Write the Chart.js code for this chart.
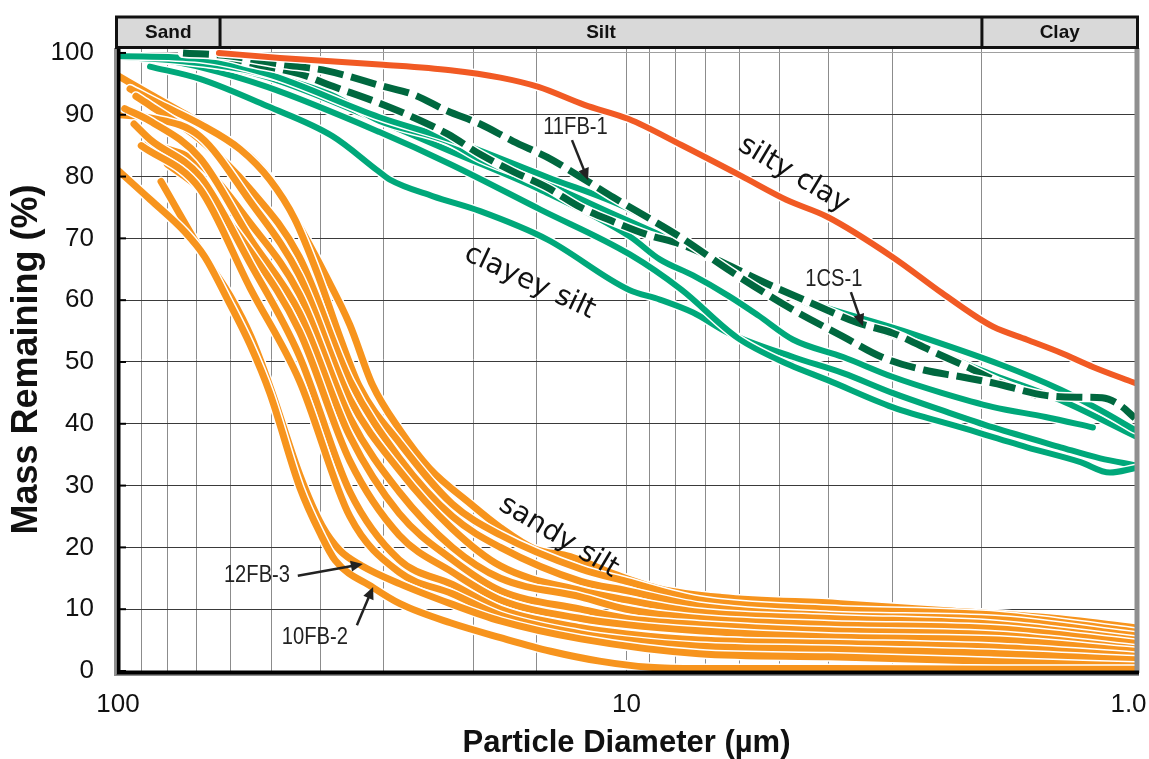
<!DOCTYPE html>
<html>
<head>
<meta charset="utf-8">
<script src="https://cdn.jsdelivr.net/npm/chart.js@4/dist/chart.umd.min.js"></script>
<style>
  html, body { margin: 0; padding: 0; background: #fff; }
</style>
</head>
<body>
<canvas id="psd" width="1149" height="759"></canvas>
<script>
// Grain-size curves: particle diameter (µm) against mass remaining (%)

// silty clay
const siltyClayDia = [63.3, 48, 30.1, 22.2, 17.7, 14.9, 12.1, 9.9, 7.8, 5.95, 4.84, 4.03, 3.0, 2.4, 2.05, 1.9, 1.63, 1.4, 1.21, 1.0];
const siltyClayPct = [100, 99.2, 98.1, 97.2, 96.0, 94.5, 91.6, 89.3, 85.1, 80.1, 76.2, 73.5, 67.0, 61.2, 57.3, 55.7, 53.6, 51.5, 49.2, 46.6];

// clayey silt, labelled samples (dashed)
const fb11Dia = [74.5, 60.2, 48.0, 38.8, 30.1, 26.3, 22.5, 19.4, 16.7, 14.3, 12.3, 10.6, 9.1, 7.8, 6.3, 4.7, 3.75, 3.15, 2.6, 2.2, 1.9, 1.5, 1.27, 1.16, 1.07, 1.0];
const fb11Pct = [100, 99.5, 98.2, 97.1, 94.6, 93.3, 90.6, 88.5, 85.7, 83.1, 79.9, 76.6, 73.4, 70.1, 64.9, 58.4, 54.1, 50.8, 48.7, 47.6, 46.6, 44.6, 44.3, 44.2, 43.0, 40.9];
const cs1Dia = [74.5, 64.5, 53.8, 43.9, 37.8, 30.9, 26.3, 22.5, 19.4, 16.7, 14.3, 12.3, 10.6, 9.1, 7.8, 6.5, 5.5, 4.35, 3.5, 3.0, 2.53, 2.14, 1.83, 1.56];
const cs1Pct = [100, 99.7, 98.2, 96.6, 94.6, 92.0, 89.6, 86.9, 83.6, 80.8, 78.2, 75.0, 72.7, 70.6, 69.0, 66.2, 63.3, 59.6, 56.3, 54.7, 51.9, 49.2, 46.6, 44.6];

// clayey silt
const clayey1Dia = [100, 69.0, 50.9, 30.6, 22.2, 14.3, 9.85, 7.2, 4.6, 2.9, 1.83, 1.4, 1.17, 1.0];
const clayey1Pct = [99.5, 99.0, 96.6, 89.6, 86.0, 79.9, 74.7, 68.2, 60.4, 55.2, 49.5, 45.5, 42.2, 39.0];
const clayey2Dia = [94.7, 69.0, 50.9, 30.6, 22.2, 14.8, 9.85, 8.6, 7.4, 6.3, 5.5, 4.7, 3.75, 3.0, 2.4, 1.9, 1.5, 1.21];
const clayey2Pct = [99.5, 98.5, 96.1, 89.0, 84.1, 77.9, 70.3, 66.6, 64.0, 60.7, 57.5, 53.6, 50.8, 47.6, 45.0, 42.7, 41.1, 39.4];
const clayey3Dia = [86.5, 69.0, 50.9, 37.8, 30.9, 29.2, 24.0, 19.4, 14.3, 9.9, 8.6, 7.4, 6.3, 4.7, 3.75, 3.0, 2.4, 1.9, 1.4, 1.17, 1.0];
const clayey3Pct = [97.8, 95.8, 91.4, 86.5, 81.0, 79.5, 76.8, 74.4, 69.8, 61.7, 60.1, 58.0, 54.7, 50.8, 48.2, 45.0, 42.2, 39.4, 36.2, 34.4, 33.3];
const clayey4Dia = [82.7, 69.0, 50.9, 30.6, 22.2, 14.8, 9.85, 7.8, 6.05, 4.77, 4.03, 3.0, 2.2, 1.63, 1.28, 1.12, 1.0];
const clayey4Pct = [99.0, 97.7, 94.5, 87.2, 82.0, 74.7, 67.4, 61.7, 53.9, 49.5, 47.1, 42.7, 39.4, 36.2, 33.8, 32.1, 32.8];
const clayey5Dia = [100, 75.5, 55.0, 38.3, 30.6, 22.5, 19.4, 14.3, 10.6, 7.8, 5.5, 3.75, 3.0, 1.9, 1.4, 1.0];
const clayey5Pct = [99.4, 98.7, 97.1, 93.3, 89.0, 85.7, 82.8, 78.7, 73.9, 69.0, 63.0, 57.1, 54.4, 47.9, 43.8, 38.0];

// sandy silt
const sandy1Dia = [100, 86.5, 73.8, 63.6, 54.7, 48.4, 43.6, 39.1, 35.0, 31.6, 27.9, 24.4, 20.3, 17.7, 15.2, 12.9, 10.5, 8.6, 6.5, 3.8, 2.3, 1.48, 1.0];
const sandy1Pct = [96.3, 93.3, 90.1, 86.9, 83.1, 77.9, 71.4, 64.1, 56, 46.3, 39, 32.8, 27.1, 23.2, 19.8, 18.5, 15.6, 13.3, 11.9, 10.9, 9.7, 8.6, 7.0];
const sandy2Dia = [94.7, 82.7, 69.0, 57.5, 50.3, 44.9, 40.4, 36.6, 33.5, 28, 22, 17.7, 12.3, 10, 7.2, 4.0, 1.85, 1.0];
const sandy2Pct = [94.2, 91.7, 88.5, 84.4, 79.5, 73.1, 64, 54, 46, 37, 27, 22, 16.5, 14.5, 11.5, 10, 9.0, 6.3];
const sandy3Dia = [92.2, 86.5, 69, 55, 44, 35, 28, 22, 17.7, 12.3, 10, 7.2, 4.0, 1.85, 1.0];
const sandy3Pct = [93, 91.5, 86, 78, 67, 47, 34.5, 25, 20, 14.5, 13, 10.5, 9, 8.3, 5.7];
const sandy4Dia = [100, 86.5, 69, 55, 44, 35, 28, 22, 17.7, 12.3, 10, 7.2, 4.0, 1.85, 1.0];
const sandy4Pct = [90, 89.5, 86.5, 76, 64, 44, 32.5, 23, 17, 13, 11.5, 9.5, 8.5, 7.5, 5.0];
const sandy5Dia = [87.3, 69, 55, 44, 35, 28, 22, 17.7, 12.3, 10, 7.2, 4.0, 1.85, 1.0];
const sandy5Pct = [85.5, 82, 72.5, 61, 41, 29, 20, 15, 12, 10, 8.5, 7.5, 6.8, 4.5];
const sandy6Dia = [97, 86.5, 69, 55, 44, 35, 28, 22, 17.7, 12.3, 10, 7.2, 4.0, 1.85, 1.0];
const sandy6Pct = [91, 89, 83, 70, 58, 38, 25.5, 18, 13, 10, 8.5, 7.5, 6.5, 5.8, 3.6];
const sandy7Dia = [80, 69, 55, 44, 35, 28, 22, 17.7, 12.3, 10, 7.2, 4.0, 1.85, 1.0];
const sandy7Pct = [82, 78, 68, 55, 34, 22, 16, 11.5, 8.5, 7.5, 6.5, 5.5, 5.0, 3.2];
const sandy8Dia = [93, 86.5, 69, 55, 44, 35, 28, 22, 17.7, 12.3, 10, 7.2, 4.0, 1.85, 1.0];
const sandy8Pct = [88.5, 86, 80, 66, 51, 29, 18, 14, 10, 7, 6, 5, 4.5, 3.8, 2.4];
const sandy9Dia = [90, 69, 55, 44, 35, 28, 22, 17.7, 12.3, 10, 7.2, 4.0, 1.85, 1.0];
const sandy9Pct = [85, 78, 62, 47, 25, 16, 12.5, 9, 6, 5, 4, 3.5, 2.8, 1.8];
const fb12Dia = [82.3, 67.5, 60, 54.7, 50, 43.9, 39.7, 36.6, 33.1, 27.9, 22.2, 17.7, 12.3, 7.2, 4.0, 1.85, 1.0];
const fb12Pct = [79.2, 67, 60.5, 54, 45.5, 31.7, 23.5, 19.5, 17, 14.1, 10.9, 8.1, 5.2, 2.8, 2.3, 1.5, 0.8];
const fb10Dia = [100, 86.5, 73.8, 67.5, 60.8, 55, 50.3, 43.9, 40, 37.4, 31.5, 27.9, 22.2, 17.7, 14.1, 11.3, 9.0, 7.2, 4.0, 1.85, 1.0];
const fb10Pct = [81, 76.3, 71, 67, 60, 52.8, 45, 29.7, 22.2, 17.9, 13.5, 10.9, 7.8, 5.4, 3.2, 1.6, 0.6, 0.4, 0.4, 0.3, 0.3];

// size classes across the top (µm)
const classNames = ['Sand', 'Silt', 'Clay'];
const classBreaks = [100, 63, 2, 1];

// axis ticks
const yTickValues = [0, 10, 20, 30, 40, 50, 60, 70, 80, 90, 100];
const xTickLabels = { 100: '100', 10: '10', 1: '1.0\u2002' };

// text placed on the plot, in data units
const groupNotes = [
  { text: 'silty clay', d: 4.69, p: 80.3, angle: 31 },
  { text: 'clayey silt', d: 15.5, p: 62.9, angle: 25 },
  { text: 'sandy silt', d: 13.6, p: 21.7, angle: 31 }
];
const sampleTags = [
  { text: '11FB-1', d: 12.6, p: 87.9, from: [12.8, 85.9], to: [11.9, 79.4] },
  { text: '1CS-1', d: 3.91, p: 63.3, from: [3.62, 61.3], to: [3.43, 55.8] },
  { text: '12FB-3', d: 53.3, p: 15.5, from: [44.3, 15.4], to: [33.0, 17.3] },
  { text: '10FB-2', d: 41.0, p: 5.5, from: [33.9, 7.4], to: [31.5, 13.6] }
];

const ORANGE = '#F7941D';
const GREEN = '#00A87A';
const DARK = '#00683F';
const RED = '#F15A24';

const datasets = [];
function addCurve(dia, pct, color, width, dash) {
  const data = dia.map((d, i) => ({ x: d, y: pct[i] }));
  const base = {
    data,
    pointRadius: 0,
    fill: false,
    cubicInterpolationMode: 'monotone',
    borderJoinStyle: 'round'
  };
  // white casing so crossing curves stay apart
  datasets.push(Object.assign({}, base, { borderColor: '#ffffff', borderWidth: width + 3, borderCapStyle: 'round' }));
  datasets.push(Object.assign({}, base, {
    borderColor: color,
    borderWidth: width,
    borderDash: dash || [],
    borderCapStyle: dash ? 'butt' : 'round'
  }));
}

[
  [sandy1Dia, sandy1Pct], [sandy2Dia, sandy2Pct], [sandy3Dia, sandy3Pct],
  [sandy4Dia, sandy4Pct], [sandy5Dia, sandy5Pct], [sandy6Dia, sandy6Pct],
  [sandy7Dia, sandy7Pct], [sandy8Dia, sandy8Pct], [sandy9Dia, sandy9Pct],
  [fb12Dia, fb12Pct], [fb10Dia, fb10Pct]
].forEach(c => addCurve(c[0], c[1], ORANGE, 7));

[
  [clayey3Dia, clayey3Pct], [clayey4Dia, clayey4Pct], [clayey2Dia, clayey2Pct],
  [clayey5Dia, clayey5Pct], [clayey1Dia, clayey1Pct]
].forEach(c => addCurve(c[0], c[1], GREEN, 6));

addCurve(cs1Dia, cs1Pct, DARK, 7, [26, 8]);
addCurve(fb11Dia, fb11Pct, DARK, 7, [26, 8]);
addCurve(siltyClayDia, siltyClayPct, RED, 6);

// later entries are painted on top
datasets.forEach((ds, i) => { ds.order = datasets.length - i; });

const frame = {
  id: 'frame',
  afterDatasetsDraw(chart) {
    const { ctx, chartArea: a, scales: { x, y } } = chart;
    const at = (d, p) => [x.getPixelForValue(d), y.getPixelForValue(p)];
    ctx.save();

    // group names along the curves
    ctx.fillStyle = '#111';
    ctx.font = "28px 'DejaVu Sans'";
    ctx.textAlign = 'center';
    ctx.textBaseline = 'middle';
    groupNotes.forEach(n => {
      const [px, py] = at(n.d, n.p);
      ctx.save();
      ctx.translate(px, py);
      ctx.rotate(n.angle * Math.PI / 180);
      ctx.fillText(n.text, 0, 0);
      ctx.restore();
    });

    // sample tags with arrows (narrowed type)
    ctx.font = "24px 'Liberation Sans'";
    sampleTags.forEach(t => {
      const [px, py] = at(t.d, t.p);
      ctx.fillStyle = '#222';
      ctx.save();
      ctx.translate(px, py);
      ctx.scale(0.84, 1);
      ctx.fillText(t.text, 0, 0);
      ctx.restore();
      const [x0, y0] = at(t.from[0], t.from[1]);
      const [x1, y1] = at(t.to[0], t.to[1]);
      const ang = Math.atan2(y1 - y0, x1 - x0);
      const head = 12;
      ctx.strokeStyle = '#222';
      ctx.lineWidth = 2.5;
      ctx.beginPath();
      ctx.moveTo(x0, y0);
      ctx.lineTo(x1 - Math.cos(ang) * head * 0.8, y1 - Math.sin(ang) * head * 0.8);
      ctx.stroke();
      ctx.beginPath();
      ctx.moveTo(x1, y1);
      ctx.lineTo(x1 - Math.cos(ang) * head - Math.sin(ang) * 5.5, y1 - Math.sin(ang) * head + Math.cos(ang) * 5.5);
      ctx.lineTo(x1 - Math.cos(ang) * head + Math.sin(ang) * 5.5, y1 - Math.sin(ang) * head - Math.cos(ang) * 5.5);
      ctx.closePath();
      ctx.fill();
    });

    // plot frame: dark left/bottom, grey right
    ctx.lineCap = 'butt';
    ctx.strokeStyle = '#8f8f8f';
    ctx.lineWidth = 2;
    ctx.beginPath();
    ctx.moveTo(a.left - 3, a.top);
    ctx.lineTo(a.left - 3, a.bottom + 4);
    ctx.lineTo(a.right + 4, a.bottom + 4);
    ctx.stroke();
    ctx.lineWidth = 5;
    ctx.beginPath();
    ctx.moveTo(a.right + 2, a.top);
    ctx.lineTo(a.right + 2, a.bottom + 2);
    ctx.stroke();
    ctx.strokeStyle = '#000';
    ctx.lineWidth = 4;
    ctx.beginPath();
    ctx.moveTo(a.left + 0.5, a.top);
    ctx.lineTo(a.left + 0.5, a.bottom + 1.5);
    ctx.lineTo(a.right + 4, a.bottom + 1.5);
    ctx.stroke();
    // short inward ticks on the left axis
    ctx.lineWidth = 2;
    y.ticks.forEach(t => {
      const py = y.getPixelForValue(t.value);
      ctx.beginPath();
      ctx.moveTo(a.left, py);
      ctx.lineTo(a.left + 8, py);
      ctx.stroke();
    });

    // size-class band above the plot
    const bandTop = 17, bandBottom = a.top - 0.5;
    const bx0 = a.left - 1.5, bx1 = a.right + 2.5;
    ctx.fillStyle = '#d9d9d9';
    ctx.fillRect(bx0, bandTop, bx1 - bx0, bandBottom - bandTop);
    ctx.strokeStyle = '#111';
    ctx.lineWidth = 3;
    ctx.strokeRect(bx0, bandTop, bx1 - bx0, bandBottom - bandTop);
    ctx.font = "bold 19px 'Liberation Sans'";
    ctx.fillStyle = '#111';
    for (let i = 0; i < classNames.length; i++) {
      const xa = i === 0 ? bx0 : x.getPixelForValue(classBreaks[i]);
      const xb = i === classNames.length - 1 ? bx1 : x.getPixelForValue(classBreaks[i + 1]);
      if (i > 0) {
        ctx.beginPath();
        ctx.moveTo(xa, bandTop);
        ctx.lineTo(xa, bandBottom);
        ctx.stroke();
      }
      ctx.fillText(classNames[i], (xa + xb) / 2, (bandTop + bandBottom) / 2 + 1);
    }
    ctx.restore();
  }
};

new Chart(document.getElementById('psd'), {
  type: 'line',
  data: { datasets },
  options: {
    responsive: false,
    animation: false,
    layout: { padding: { top: 48, right: 14, bottom: 0, left: 0 } },
    plugins: { legend: { display: false }, tooltip: { enabled: false } },
    scales: {
      x: {
        type: 'logarithmic',
        reverse: true,
        min: 1,
        max: 100,
        afterFit: s => { s.height = 88; s.paddingLeft = 0; s.paddingRight = 0; },
        border: { display: false },
        grid: { color: '#8c8c8c', lineWidth: 1, drawTicks: false },
        ticks: {
          autoSkip: false,
          maxRotation: 0,
          padding: 18,
          color: '#111',
          font: { family: 'Liberation Sans', size: 26 },
          callback: v => xTickLabels[v] || ''
        },
        title: {
          display: true,
          text: 'Particle Diameter (µm)',
          color: '#111',
          font: { family: 'Liberation Sans', size: 31, weight: 'bold', lineHeight: 1 },
          padding: { top: 0, bottom: 0 }
        }
      },
      y: {
        min: 0,
        max: 100.8,
        afterBuildTicks: s => { s.ticks = yTickValues.map(v => ({ value: v })); },
        afterFit: s => { s.width = 118; },
        border: { display: false },
        grid: {
          color: c => (c.tick && c.tick.value === 100 ? '#a0a0a0' : '#3a3a3a'),
          lineWidth: 1,
          drawTicks: false
        },
        ticks: {
          padding: 24,
          color: '#111',
          font: { family: 'Liberation Sans', size: 26 }
        },
        title: {
          display: true,
          text: 'Mass Remaining (%)',
          color: '#111',
          font: { family: 'Liberation Sans', size: 36, weight: 'bold', lineHeight: 1 },
          padding: { top: 9, bottom: 0 }
        }
      }
    }
  },
  plugins: [frame]
});
</script>
</body>
</html>
